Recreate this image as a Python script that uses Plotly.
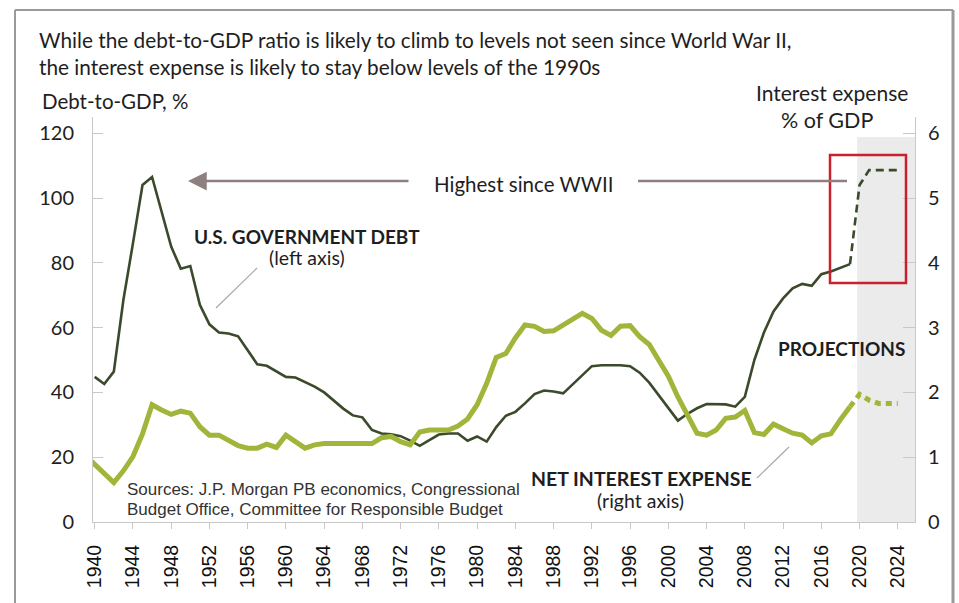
import plotly.graph_objects as go

# ---------------- data ----------------
debt_years = list(range(1940, 2020))
debt = [44.8, 42.6, 46.4, 68.5, 86.0, 104.0, 106.5, 95.5, 85.0, 78.2,
        79.0, 67.0, 61.0, 58.5, 58.2, 57.3, 53.0, 48.7, 48.2, 46.6,
        44.8, 44.6, 43.3, 41.8, 40.0, 37.6, 35.0, 32.9, 32.3, 28.4,
        27.3, 27.1, 26.5, 25.1, 23.5, 25.3, 27.0, 27.3, 27.3, 25.1,
        26.4, 24.8, 29.3, 32.8, 34.0, 36.6, 39.5, 40.6, 40.3, 39.7,
        42.6, 45.3, 48.1, 48.4, 48.4, 48.4, 48.1, 46.1, 43.0, 39.0,
        35.0, 31.3, 33.4, 35.1, 36.4, 36.4, 36.3, 35.6, 38.6, 50.0,
        58.5, 65.0, 69.0, 72.1, 73.5, 72.9, 76.5, 77.3, 78.5, 79.6]
proj_years = [2019, 2020, 2021, 2022, 2023, 2024]
debt_proj = [79.6, 104.0, 108.6, 108.6, 108.6, 108.6]

int_years = list(range(1939, 2020))
interest = [1.03,
            0.89, 0.75, 0.61, 0.79, 1.01, 1.36, 1.81, 1.73, 1.66, 1.71,
            1.68, 1.47, 1.34, 1.34, 1.27, 1.18, 1.14, 1.14, 1.20, 1.15,
            1.34, 1.24, 1.14, 1.19, 1.21, 1.21, 1.21, 1.21, 1.21, 1.21,
            1.30, 1.32, 1.24, 1.19, 1.39, 1.42, 1.42, 1.42, 1.48, 1.59,
            1.81, 2.14, 2.54, 2.60, 2.84, 3.04, 3.02, 2.94, 2.95, 3.04,
            3.13, 3.22, 3.14, 2.96, 2.88, 3.02, 3.03, 2.86, 2.74, 2.49,
            2.25, 1.93, 1.66, 1.37, 1.34, 1.42, 1.60, 1.62, 1.72, 1.38,
            1.35, 1.51, 1.44, 1.37, 1.34, 1.22, 1.33, 1.36, 1.58, 1.78]
int_proj = [1.78, 1.97, 1.88, 1.83, 1.83, 1.83]

x_ticks = list(range(1940, 2025, 4))
left_ticks = [0, 20, 40, 60, 80, 100, 120]
right_ticks = [0, 1, 2, 3, 4, 5, 6]

# ---------------- layout helpers ----------------
FW, FH = 959, 603
ML, MR, MT, MB = 93, 44, 117, 81
PW, PH = FW - ML - MR, FH - MT - MB


def px(x):
    return (x - ML) / PW


def py(y):
    return (FH - MB - y) / PH


DEBT_C = "#3a4a2b"
INT_C = "#a0b53a"
AX_C = "#c8c8c8"
TXT = "#1e1e1e"
F_MAIN = "Lato, Roboto, sans-serif"
F_ARIAL = "Liberation Sans, Arial, sans-serif"

fig = go.Figure()
fig.add_trace(go.Scatter(x=debt_years, y=debt, mode="lines", yaxis="y",
                         line=dict(color=DEBT_C, width=2.6), hoverinfo="skip"))
fig.add_trace(go.Scatter(x=proj_years, y=debt_proj, mode="lines", yaxis="y",
                         line=dict(color=DEBT_C, width=2.6, dash="8px,5px"), hoverinfo="skip"))
fig.add_trace(go.Scatter(x=int_years, y=interest, mode="lines", yaxis="y2",
                         line=dict(color=INT_C, width=5), hoverinfo="skip"))
fig.add_trace(go.Scatter(x=proj_years, y=int_proj, mode="lines", yaxis="y2",
                         line=dict(color=INT_C, width=5, dash="6px,5px"), hoverinfo="skip"))

shapes = [
    # projections shading
    dict(type="rect", xref="x", yref="paper", x0=2019.75, x1=2025.8, y0=0, y1=py(137),
         fillcolor="#ebebeb", line=dict(width=0), layer="below"),
    # red box
    dict(type="rect", xref="paper", yref="paper", x0=px(830), x1=px(906), y0=py(283), y1=py(155),
         line=dict(color="#c8202f", width=2.5)),
    # line right of "Highest since WWII"
    dict(type="line", xref="paper", yref="paper", x0=px(638), x1=px(847), y0=py(181), y1=py(181),
         line=dict(color="#8e8080", width=2.5)),
    # leader lines
    dict(type="line", xref="paper", yref="paper", x0=px(257), x1=px(216), y0=py(268), y1=py(308),
         line=dict(color="#a8a8a8", width=1.2)),
    dict(type="line", xref="paper", yref="paper", x0=px(757), x1=px(789), y0=py(478), y1=py(447),
         line=dict(color="#a8a8a8", width=1.2)),
    # outer frame
    dict(type="line", xref="paper", yref="paper", x0=px(15), x1=px(15), y0=py(10), y1=py(610),
         line=dict(color="#9a9a9a", width=2)),
    dict(type="line", xref="paper", yref="paper", x0=px(15), x1=px(953), y0=py(10), y1=py(10),
         line=dict(color="#9a9a9a", width=2)),
    dict(type="line", xref="paper", yref="paper", x0=px(953), x1=px(953), y0=py(10), y1=py(610),
         line=dict(color="#9a9a9a", width=3)),
]


def txt(text, x, y, size=19, anchor="left", bold=False, family=F_MAIN, color=TXT):
    return dict(text=f"<b>{text}</b>" if bold else text, x=px(x), y=py(y), xref="paper", yref="paper",
                xanchor=anchor, yanchor="middle", showarrow=False,
                font=dict(family=family, size=size, color=color))


annotations = [
    txt("While the debt-to-GDP ratio is likely to climb to levels not seen since World War II,", 37, 40, 20.8),
    txt("the interest expense is likely to stay below levels of the 1990s", 37, 67, 20.8),
    txt("Debt-to-GDP, %", 40, 101, 20.5),
    txt("Interest expense", 910, 93, 21, "right"),
    txt("% of GDP", 827, 120, 21.5, "center"),
    txt("Highest since WWII", 523, 184, 20.5, "center"),
    txt("U.S. GOVERNMENT DEBT", 307, 236, 19, "center", True),
    txt("(left axis)", 307, 257, 19.5, "center"),
    txt("NET INTEREST EXPENSE", 641, 478, 19.5, "center", True),
    txt("(right axis)", 640, 500, 19.5, "center"),
    txt("PROJECTIONS", 841, 348, 19, "center", True),
    txt("Sources: J.P. Morgan PB economics, Congressional", 125, 489, 17, family=F_ARIAL, color="#333333"),
    txt("Budget Office, Committee for Responsible Budget", 125, 509, 17, family=F_ARIAL, color="#333333"),
    # arrow
    dict(x=px(188), y=py(181), xref="paper", yref="paper", ax=222, ay=0, text="", showarrow=True,
         arrowhead=2, arrowsize=1.5, arrowwidth=2.5, arrowcolor="#8e8080", standoff=0),
]

fig.update_layout(
    width=FW, height=FH,
    margin=dict(l=ML, r=MR, t=MT, b=MB, pad=0),
    paper_bgcolor="white", plot_bgcolor="white",
    showlegend=False,
    shapes=shapes, annotations=annotations,
    xaxis=dict(range=[1939.822, 2025.8], tickvals=x_ticks, ticktext=[str(v) for v in x_ticks],
               tickangle=-90, ticks="outside", ticklen=6, tickcolor=AX_C, showline=True,
               linecolor=AX_C, linewidth=1, showgrid=False, zeroline=False,
               tickfont=dict(family=F_ARIAL, size=19.5, color="#111111"), ticklabelstandoff=8),
    yaxis=dict(range=[0, 125], tickvals=left_ticks, ticks="inside", ticklen=10, tickcolor=AX_C,
               showline=True, linecolor=AX_C, showgrid=False, zeroline=False,
               tickfont=dict(family=F_MAIN, size=20, color=TXT), ticklabelstandoff=14),
    yaxis2=dict(range=[0, 6.25], tickvals=right_ticks, overlaying="y", side="right", ticks="inside",
                ticklen=12, tickcolor=AX_C, showline=True, linecolor=AX_C, showgrid=False,
                zeroline=False, tickfont=dict(family=F_MAIN, size=20, color=TXT), ticklabelstandoff=8),
)

fig.write_html("out.html")
